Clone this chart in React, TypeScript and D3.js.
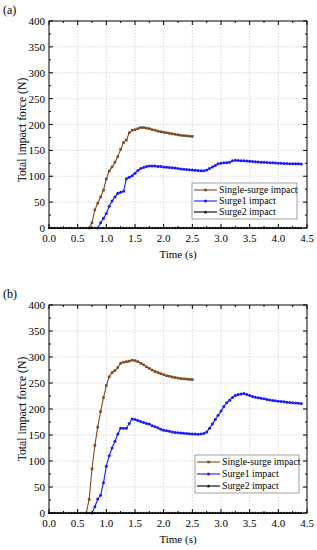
import React from 'react';
import * as d3 from 'd3';

// time stamps (s) and forces (N)
const singleA: [number, number][] = [
  [0.70, 0], [0.75, 10], [0.80, 35], [0.85, 48], [0.90, 60], [0.95, 73], [1.00, 95], [1.05, 110],
  [1.10, 118], [1.15, 127], [1.20, 138], [1.25, 152], [1.30, 165], [1.35, 170], [1.40, 184],
  [1.45, 189], [1.50, 190], [1.55, 192], [1.60, 194], [1.65, 194], [1.70, 193], [1.75, 192],
  [1.80, 190], [1.85, 189], [1.90, 187], [1.95, 186], [2.00, 185], [2.05, 184], [2.10, 183],
  [2.15, 182], [2.20, 181], [2.25, 180], [2.30, 179], [2.35, 178.5], [2.40, 178], [2.45, 177.5],
  [2.50, 177],
];

const surge1A: [number, number][] = [
  [0.85, 0], [0.90, 10], [0.95, 19], [1.00, 28], [1.05, 42], [1.10, 52], [1.15, 60], [1.20, 67],
  [1.25, 69], [1.30, 71], [1.35, 95], [1.40, 98], [1.45, 101], [1.50, 106], [1.55, 111], [1.60, 115],
  [1.65, 117], [1.70, 119], [1.75, 120], [1.80, 120], [1.85, 120], [1.90, 119], [1.95, 119],
  [2.00, 118], [2.05, 117.5], [2.10, 117], [2.15, 116.5], [2.20, 116], [2.25, 115], [2.30, 114],
  [2.35, 113.5], [2.40, 113], [2.45, 112.5], [2.50, 112], [2.55, 111.5], [2.60, 111], [2.65, 110.5],
  [2.70, 110.5], [2.75, 112], [2.80, 115], [2.85, 118], [2.90, 121], [2.95, 124], [3.00, 125],
  [3.05, 126], [3.10, 126], [3.15, 127], [3.20, 130], [3.25, 131], [3.30, 130.5], [3.35, 130],
  [3.40, 130], [3.45, 129.5], [3.50, 129], [3.55, 128.5], [3.60, 128], [3.65, 127.5], [3.70, 127],
  [3.75, 127], [3.80, 126.5], [3.85, 126], [3.90, 126], [3.95, 125.5], [4.00, 125], [4.05, 125],
  [4.10, 124.5], [4.15, 124.5], [4.20, 124], [4.25, 124], [4.30, 124], [4.35, 124], [4.40, 123.5],
];

const singleB: [number, number][] = [
  [0.65, 0], [0.70, 26], [0.75, 85], [0.80, 130], [0.85, 165], [0.90, 195], [0.95, 222], [1.00, 245],
  [1.05, 262], [1.10, 270], [1.15, 274], [1.20, 280], [1.25, 288], [1.30, 290], [1.35, 291],
  [1.40, 292], [1.45, 294], [1.50, 293], [1.55, 291], [1.60, 288], [1.65, 285], [1.70, 281],
  [1.75, 278], [1.80, 275], [1.85, 272], [1.90, 270], [1.95, 268], [2.00, 266], [2.05, 264],
  [2.10, 263], [2.15, 261.5], [2.20, 260.5], [2.25, 259.5], [2.30, 258.5], [2.35, 258], [2.40, 257.5],
  [2.45, 257], [2.50, 256.5],
];

const surge1B: [number, number][] = [
  [0.75, 0], [0.80, 12], [0.85, 27], [0.90, 34], [0.95, 58], [1.00, 90], [1.05, 110], [1.10, 125],
  [1.15, 138], [1.20, 152], [1.25, 163], [1.30, 163], [1.35, 163], [1.40, 172], [1.45, 181],
  [1.50, 180], [1.55, 178], [1.60, 176], [1.65, 174], [1.70, 172], [1.75, 171], [1.80, 168],
  [1.85, 166], [1.90, 164], [1.95, 161], [2.00, 159], [2.05, 158], [2.10, 157], [2.15, 156],
  [2.20, 155], [2.25, 154.5], [2.30, 154], [2.35, 153.5], [2.40, 153], [2.45, 152.5], [2.50, 152],
  [2.55, 152], [2.60, 151.5], [2.65, 152], [2.70, 153], [2.75, 156], [2.80, 163], [2.85, 171],
  [2.90, 180], [2.95, 188], [3.00, 196], [3.05, 205], [3.10, 212], [3.15, 217], [3.20, 222],
  [3.25, 226], [3.30, 228], [3.35, 229], [3.40, 230], [3.45, 228], [3.50, 226], [3.55, 224],
  [3.60, 222.5], [3.65, 221.5], [3.70, 220.5], [3.75, 219.5], [3.80, 218.5], [3.85, 217.5],
  [3.90, 216.5], [3.95, 216], [4.00, 215], [4.05, 214.5], [4.10, 214], [4.15, 213], [4.20, 212.5],
  [4.25, 212], [4.30, 211.5], [4.35, 211], [4.40, 210.5],
];

// surge 2 stays on the baseline in both runs
const surge2Times = [
  0.00, 0.05, 0.10, 0.15, 0.20, 0.25, 0.30, 0.35, 0.40, 0.45, 0.50, 0.55, 0.60, 0.65, 0.70, 0.75,
  0.80, 0.85, 0.90, 0.95, 1.00, 1.05, 1.10, 1.15, 1.20, 1.25, 1.30, 1.35, 1.40, 1.45, 1.50, 1.55,
  1.60, 1.65, 1.70, 1.75, 1.80, 1.85, 1.90, 1.95, 2.00, 2.05, 2.10, 2.15, 2.20, 2.25, 2.30, 2.35,
  2.40, 2.45, 2.50, 2.55, 2.60, 2.65, 2.70, 2.75, 2.80, 2.85, 2.90, 2.95, 3.00, 3.05, 3.10, 3.15,
  3.20, 3.25, 3.30, 3.35, 3.40, 3.45, 3.50, 3.55, 3.60, 3.65, 3.70, 3.75, 3.80, 3.85, 3.90, 3.95,
  4.00, 4.05, 4.10, 4.15, 4.20, 4.25, 4.30, 4.35, 4.40,
];
const surge2Force = surge2Times.map(() => 0);
const surge2: [number, number][] = surge2Times.map((t, i) => [t, surge2Force[i]]);

const xTicks = [0, 0.5, 1.0, 1.5, 2.0, 2.5, 3.0, 3.5, 4.0, 4.5];
const yTicks = [0, 50, 100, 150, 200, 250, 300, 350, 400];
const legendNames = ['Single-surge impact', 'Surge1 impact', 'Surge2 impact'];

const BROWN = '#7f4a1e';
const BLUE = '#1a1aff';
const FONT = "'Liberation Serif', 'Times New Roman', Times, serif";

const X0 = 49;
const X1 = 307;

type PanelProps = {
  label: string;
  top: number;
  bottom: number;
  titleY: number;
  single: [number, number][];
  surge1: [number, number][];
  legend: { x: number; y: number; w: number; h: number };
};

const Panel = ({ label, top, bottom, titleY, single, surge1, legend }: PanelProps) => {
  const x = d3.scaleLinear().domain([0, 4.5]).range([X0, X1]);
  const y = d3.scaleLinear().domain([0, 400]).range([bottom, top]);
  const line = d3.line<[number, number]>().x(d => x(d[0])).y(d => y(d[1]));
  const xMinor = d3.range(0.25, 4.5, 0.5);
  const yMinor = d3.range(25, 400, 50);

  const tri = (cx: number, cy: number, s: number) =>
    `M${cx},${cy - s}L${cx + s},${cy + s * 0.8}L${cx - s},${cy + s * 0.8}Z`;

  return (
    <g style={{ fontFamily: FONT }}>
      <text x={3} y={top - 7} fontSize={12}>{label}</text>

      {/* grid */}
      {xTicks.slice(1, -1).map(t => (
        <line key={'gx' + t} x1={x(t)} x2={x(t)} y1={top} y2={bottom} stroke="#c8c8c8" strokeWidth={0.7} strokeDasharray="1.5,1.5" />
      ))}
      {yTicks.slice(1, -1).map(t => (
        <line key={'gy' + t} x1={X0} x2={X1} y1={y(t)} y2={y(t)} stroke="#c8c8c8" strokeWidth={0.7} strokeDasharray="1.5,1.5" />
      ))}

      {/* series */}
      <path d={line(surge1) || ''} fill="none" stroke={BLUE} strokeWidth={1.1} />
      {surge1.map((d, i) => (
        <circle key={'b' + i} cx={x(d[0])} cy={y(d[1])} r={1.5} fill={BLUE} />
      ))}
      <path d={line(single) || ''} fill="none" stroke={BROWN} strokeWidth={1.1} />
      {single.map((d, i) => (
        <rect key={'s' + i} x={x(d[0]) - 1.3} y={y(d[1]) - 1.3} width={2.6} height={2.6} fill={BROWN} />
      ))}
      <path d={line(surge2) || ''} fill="none" stroke="#000" strokeWidth={1.1} />
      {surge2.map((d, i) => (
        <path key={'k' + i} d={tri(x(d[0]), y(d[1]), 1.4)} fill="#000" />
      ))}

      {/* frame and inward ticks */}
      <rect x={X0} y={top} width={X1 - X0} height={bottom - top} fill="none" stroke="#000" strokeWidth={1} />
      {xTicks.map(t => (
        <g key={'tx' + t}>
          <line x1={x(t)} x2={x(t)} y1={bottom} y2={bottom - 4} stroke="#000" />
          <line x1={x(t)} x2={x(t)} y1={top} y2={top + 4} stroke="#000" />
          <text x={x(t)} y={bottom + 14} textAnchor="middle" fontSize={11}>{t.toFixed(1)}</text>
        </g>
      ))}
      {xMinor.map(t => (
        <g key={'mx' + t}>
          <line x1={x(t)} x2={x(t)} y1={bottom} y2={bottom - 2} stroke="#000" />
          <line x1={x(t)} x2={x(t)} y1={top} y2={top + 2} stroke="#000" />
        </g>
      ))}
      {yTicks.map(t => (
        <g key={'ty' + t}>
          <line x1={X0} x2={X0 + 4} y1={y(t)} y2={y(t)} stroke="#000" />
          <line x1={X1} x2={X1 - 4} y1={y(t)} y2={y(t)} stroke="#000" />
          <text x={X0 - 4} y={y(t) + 4} textAnchor="end" fontSize={11}>{t}</text>
        </g>
      ))}
      {yMinor.map(t => (
        <g key={'my' + t}>
          <line x1={X0} x2={X0 + 2} y1={y(t)} y2={y(t)} stroke="#000" />
          <line x1={X1} x2={X1 - 2} y1={y(t)} y2={y(t)} stroke="#000" />
        </g>
      ))}

      {/* axis titles */}
      <text x={(X0 + X1) / 2} y={bottom + 30} textAnchor="middle" fontSize={11}>Time (s)</text>
      <text transform={`translate(26,${titleY}) rotate(-90)`} textAnchor="middle" fontSize={11.7}>
        Total impact force (N)
      </text>

      {/* legend */}
      <rect x={legend.x} y={legend.y} width={legend.w} height={legend.h} fill="#fff" stroke="#888" strokeWidth={0.8} />
      {legendNames.map((name, i) => {
        const ly = legend.y + 7 + i * (legend.h - 14) / 2;
        const lx0 = legend.x + 2;
        const lx1 = legend.x + 25;
        const mx = (lx0 + lx1) / 2;
        const color = i === 0 ? BROWN : i === 1 ? BLUE : '#000';
        return (
          <g key={name}>
            <line x1={lx0} x2={lx1} y1={ly} y2={ly} stroke={color} strokeWidth={1.1} />
            {i === 0 && <rect x={mx - 1.3} y={ly - 1.3} width={2.6} height={2.6} fill={color} />}
            {i === 1 && <circle cx={mx} cy={ly} r={1.5} fill={color} />}
            {i === 2 && <path d={tri(mx, ly, 1.6)} fill={color} />}
            <text x={lx1 + 2} y={ly + 3.3} fontSize={9.8}>{name}</text>
          </g>
        );
      })}
    </g>
  );
};

export default function App() {
  return (
    <svg width={317} height={550} style={{ position: 'absolute', left: 0, top: 0, background: '#fff' }}>
      <rect width={317} height={550} fill="#fff" />
      <Panel label="(a)" top={21} bottom={228} titleY={130} single={singleA} surge1={surge1A}
        legend={{ x: 192, y: 183, w: 105, h: 36 }} />
      <Panel label="(b)" top={305} bottom={513} titleY={409} single={singleB} surge1={surge1B}
        legend={{ x: 195, y: 455, w: 104, h: 38 }} />
    </svg>
  );
}
